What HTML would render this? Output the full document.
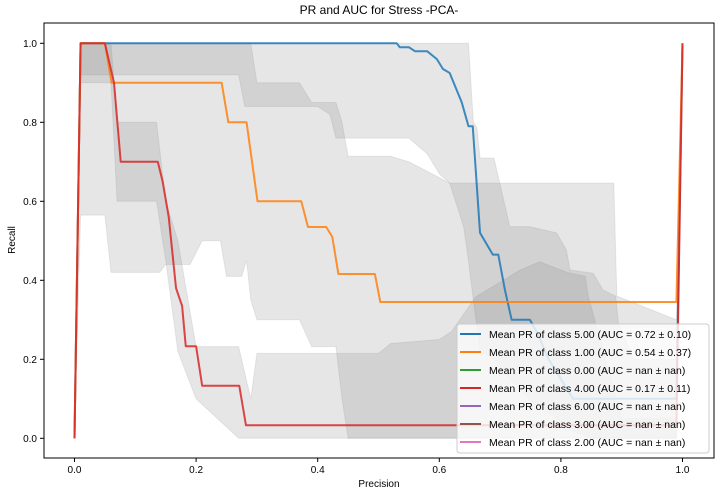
<!DOCTYPE html>
<html><head><meta charset="utf-8">
<style>
body{margin:0;background:#fff;font-family:"Liberation Sans",sans-serif;}
svg text{font-family:"Liberation Sans",sans-serif;fill:#000;}
</style></head>
<body>
<svg id="chart" width="724" height="496" xmlns="http://www.w3.org/2000/svg">
<rect x="0" y="0" width="724" height="496" fill="#fff"/>
<g id="bands"></g>
<g id="lines"></g>
<rect x="44" y="23" width="670" height="435" fill="none" stroke="#000" stroke-width="1"/>
<g id="ticks"></g>
<text x="379" y="14" text-anchor="middle" font-size="12">PR and AUC for Stress -PCA-</text>
<text x="379" y="487" text-anchor="middle" font-size="10">Precision</text>
<text transform="translate(15,240) rotate(-90)" text-anchor="middle" font-size="10">Recall</text>
<g id="legend"></g>
</svg>
<script>
const xTicks=[0,0.2,0.4,0.6,0.8,1.0];
const yTicks=[0,0.2,0.4,0.6,0.8,1.0];
// class 5.00 mean
const c5x=[0,0.01,0.53,0.535,0.55,0.56,0.58,0.596,0.606,0.617,0.637,0.648,0.655,0.667,0.688,0.697,0.708,0.719,0.749,0.76,0.78,0.8,0.82,0.99,1.0];
const c5y=[0,1,1,0.99,0.99,0.98,0.98,0.96,0.935,0.925,0.85,0.79,0.79,0.52,0.465,0.465,0.375,0.3,0.3,0.27,0.2,0.15,0.1,0.1,1];
// class 1.00 mean
const c1x=[0,0.01,0.05,0.061,0.242,0.253,0.283,0.301,0.373,0.384,0.414,0.424,0.434,0.494,0.503,0.99,1.0];
const c1y=[0,1,1,0.9,0.9,0.8,0.8,0.6,0.6,0.535,0.535,0.51,0.416,0.416,0.345,0.345,1];
// class 4.00 mean
const c4x=[0,0.01,0.05,0.065,0.076,0.137,0.145,0.155,0.167,0.177,0.183,0.2,0.21,0.271,0.282,0.99,1.0];
const c4y=[0,1,1,0.9,0.7,0.7,0.65,0.56,0.38,0.335,0.233,0.233,0.133,0.133,0.033,0.033,1];
// bands
const b5x=[0,0.01,0.27,0.28,0.4,0.42,0.43,0.55,0.58,0.6,0.617,0.64,0.648,0.656,0.662,0.667,0.69,0.716,0.748,0.793,0.809,0.815,0.853,0.869,0.89,0.895,0.92,0.99,1.0];
const b5hi=[0,1,1,1,1,1,1,1,1,1,1,1,1,0.8,0.786,0.71,0.709,0.536,0.536,0.52,0.477,0.426,0.418,0.376,0.36,0.29,0.2,0.2,1];
const b5lo=[0,0.92,0.92,0.84,0.84,0.82,0.76,0.76,0.72,0.67,0.646,0.536,0.45,0.35,0.28,0.22,0.2,0.15,0.1,0.05,0.03,0.02,0,0,0,0,0,0,1];
const b1x=[0,0.01,0.05,0.06,0.14,0.15,0.19,0.21,0.24,0.25,0.275,0.283,0.29,0.3,0.37,0.39,0.43,0.44,0.45,0.52,0.55,0.6,0.617,0.887,0.892,0.99,1.0];
const b1hi=[0,1,1,1,1,1,1,1,1,1,1,1,1,0.9,0.9,0.85,0.85,0.8,0.714,0.714,0.7,0.66,0.646,0.646,0.36,0.3,1];
const b1lo=[0,0.565,0.565,0.42,0.42,0.44,0.44,0.5,0.5,0.41,0.41,0.45,0.35,0.3,0.3,0.232,0.232,0.1,0,0,0,0,0,0,0,0,1];
const b4x=[0,0.01,0.06,0.07,0.135,0.15,0.17,0.2,0.27,0.29,0.3,0.5,0.52,0.6,0.62,0.66,0.733,0.765,0.81,0.84,0.845,0.9,0.99,1.0];
const b4hi=[0,1,1,0.8,0.8,0.6,0.5,0.232,0.232,0.1,0.215,0.215,0.24,0.25,0.27,0.358,0.426,0.447,0.42,0.41,0.36,0.05,0.05,1];
const b4lo=[0,0.9,0.9,0.6,0.6,0.45,0.22,0.1,0,0,0,0,0,0,0,0,0,0,0,0,0,0,0,1];

const X=v=>74.5+v*608, Y=v=>438.3-v*395;
const NS='http://www.w3.org/2000/svg';
function mk(tag,parent,attrs){const e=document.createElementNS(NS,tag);for(const k in attrs)e.setAttribute(k,attrs[k]);parent.appendChild(e);return e;}
const bands=document.getElementById('bands');
[[b5x,b5hi,b5lo,'band-class-5'],[b1x,b1hi,b1lo,'band-class-1'],[b4x,b4hi,b4lo,'band-class-4']].forEach(([xs,hi,lo,n])=>{
  let pts=xs.map((x,i)=>X(x)+','+Y(hi[i]));
  for(let i=xs.length-1;i>=0;i--)pts.push(X(xs[i])+','+Y(lo[i]));
  const p=mk('polygon',bands,{points:pts.join(' '),fill:'#808080','fill-opacity':0.2,stroke:'#808080','stroke-opacity':0.15});
  
  
});
const lines=document.getElementById('lines');
[[c5x,c5y,'#1f77b4','line-class-5'],[c1x,c1y,'#ff7f0e','line-class-1'],[c4x,c4y,'#d62728','line-class-4']].forEach(([xs,ys,c,n])=>{
  const p=mk('polyline',lines,{points:xs.map((x,i)=>X(x)+','+Y(ys[i])).join(' '),fill:'none',stroke:c,'stroke-width':2,'stroke-opacity':0.85,'stroke-linejoin':'round'});
  
  
});
const ticks=document.getElementById('ticks');
xTicks.forEach(v=>{
  const l=mk('line',ticks,{x1:X(v),x2:X(v),y1:458,y2:462,stroke:'#000'});
  
  
  const t=mk('text',ticks,{x:X(v),y:473,'text-anchor':'middle','font-size':10});
  
  
  t.textContent=v.toFixed(1);
});
yTicks.forEach(v=>{
  const l=mk('line',ticks,{x1:40,x2:44,y1:Y(v),y2:Y(v),stroke:'#000'});
  
  
  const t=mk('text',ticks,{x:37,y:Y(v)+3.5,'text-anchor':'end','font-size':10});
  
  
  t.textContent=v.toFixed(1);
});
const legLabels=['Mean PR of class 5.00 (AUC = 0.72 \u00b1 0.10)','Mean PR of class 1.00 (AUC = 0.54 \u00b1 0.37)','Mean PR of class 0.00 (AUC = nan \u00b1 nan)','Mean PR of class 4.00 (AUC = 0.17 \u00b1 0.11)','Mean PR of class 6.00 (AUC = nan \u00b1 nan)','Mean PR of class 3.00 (AUC = nan \u00b1 nan)','Mean PR of class 2.00 (AUC = nan \u00b1 nan)'];
const legColors=['#1f77b4','#ff7f0e','#2ca02c','#d62728','#9467bd','#8c564b','#e377c2'];
const leg=document.getElementById('legend');
const box=mk('rect',leg,{x:457,y:324,width:252,height:129,rx:3,fill:'#fff','fill-opacity':0.8,stroke:'#ccc'});


legLabels.forEach((s,i)=>{
  const y=334+i*18;
  const g=mk('g',leg,{});
  
  
  mk('line',g,{x1:460,x2:481,y1:y,y2:y,stroke:legColors[i],'stroke-width':2});
  const t=mk('text',g,{x:489,y:y+4,'font-size':10.5});
  t.textContent=s;
});
</script>
</body></html>
